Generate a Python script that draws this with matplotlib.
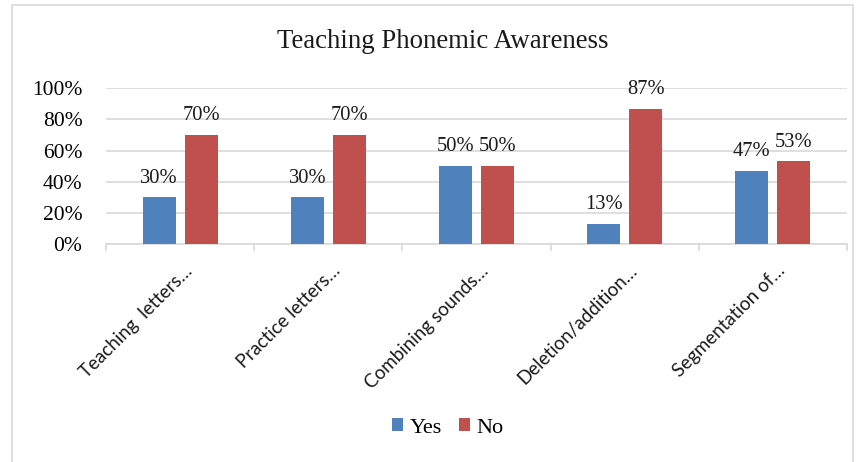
import numpy as np
import matplotlib
matplotlib.use("Agg")
import matplotlib.pyplot as plt
import matplotlib.transforms as mtransforms
from matplotlib.patches import Rectangle
from matplotlib.ticker import PercentFormatter

# Data
categories = ["Teaching  letters\u2026", "Practice letters\u2026", "Combining sounds\u2026",
              "Deletion/addition\u2026", "Segmentation of\u2026"]
yes_vals = [30, 30, 50, 13, 47]
no_vals = [70, 70, 50, 87, 53]
series_names = ["Yes", "No"]

blue = "#4F81BD"
red = "#C0504D"
grid_grey = "#D9D9D9"
serif = "Liberation Serif"

W, H = 864, 462
fig = plt.figure(figsize=(W / 100, H / 100), dpi=100)

# outer chart border
fig.patches.append(Rectangle((12 / W, -0.05), (853 - 12) / W, 1 - 5 / H + 0.05,
                             transform=fig.transFigure, fill=False,
                             edgecolor=grid_grey, linewidth=1.2))

ax = fig.add_axes([106 / W, (H - 244) / H, (847 - 106) / W, (244 - 88.3) / H])

x = np.arange(len(categories))
bw = 0.223
off = 0.142
yes = np.array(yes_vals) / 100
no = np.array(no_vals) / 100
b1 = ax.bar(x - off, yes, bw, color=blue, label=series_names[0], zorder=3)
b2 = ax.bar(x + off, no, bw, color=red, label=series_names[1], zorder=3)

for bars, vals in ((b1, yes_vals), (b2, no_vals)):
    for rect, v in zip(bars, vals):
        ax.annotate(f"{v}%", (rect.get_x() + rect.get_width() / 2, rect.get_height()),
                    xytext=(0, 7), textcoords="offset points", ha="center", va="bottom",
                    fontsize=14.8, family=serif, color="#1a1a1a")

ax.set_xlim(-0.5, len(categories) - 0.5)
ax.set_ylim(0, 1)
ax.set_yticks(np.arange(0, 1.01, 0.2))
ax.yaxis.set_major_formatter(PercentFormatter(1.0, decimals=0))
ax.tick_params(axis="y", length=0, pad=17, labelsize=15.5)
for lab in ax.get_yticklabels():
    lab.set_family(serif)
ax.grid(axis="y", color=grid_grey, linewidth=1.2, zorder=0)

ax.set_xticks(x)
ax.set_xticks(np.arange(-0.5, len(categories), 1), minor=True)
ax.tick_params(axis="x", which="major", length=0, pad=4)
ax.tick_params(axis="x", which="minor", length=5, color=grid_grey, width=1.2)
ax.set_xticklabels(categories, rotation=45, ha="right", rotation_mode="anchor",
                   fontsize=13.5, family="Lato", color="#1a1a1a")
shift = mtransforms.ScaledTranslation(2.5 / 72, -9 / 72, fig.dpi_scale_trans)
for lab in ax.get_xticklabels():
    lab.set_transform(lab.get_transform() + shift)

for s in ("left", "right", "top"):
    ax.spines[s].set_visible(False)
ax.spines["bottom"].set_color(grid_grey)
ax.spines["bottom"].set_linewidth(1.2)

fig.text(443 / W, 1 - 42 / H, "Teaching Phonemic Awareness", ha="center", va="center",
         fontsize=19.3, family=serif, color="#1a1a1a")

fig.legend(handles=[b1, b2], labels=series_names, loc="center",
           bbox_to_anchor=(448 / W, 1 - 428 / H), ncol=2, frameon=False,
           prop={"family": serif, "size": 16}, handlelength=0.5, handleheight=0.5,
           handletextpad=0.3, columnspacing=0.75)

fig.savefig("out.png", dpi=100)
